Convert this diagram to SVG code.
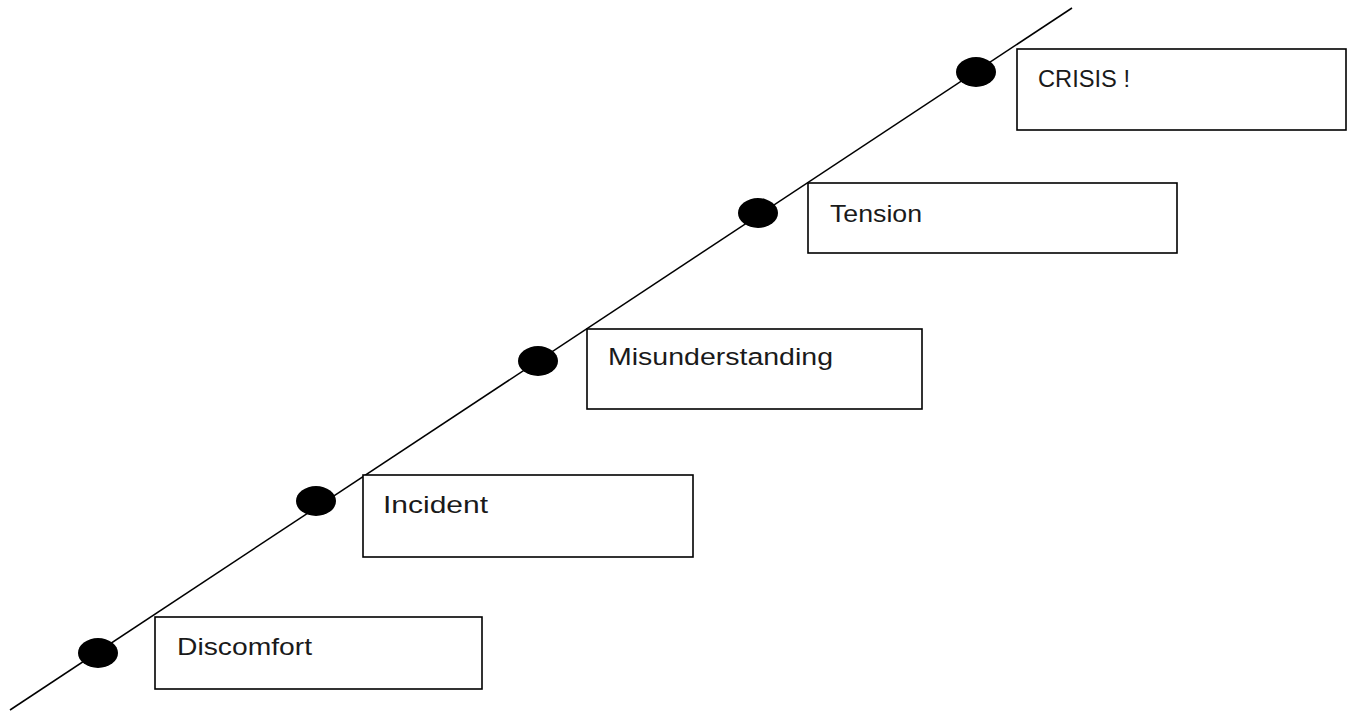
<svg xmlns="http://www.w3.org/2000/svg" width="1355" height="711" viewBox="0 0 1355 711">
<style>
.box{fill:#fff;stroke:#000;stroke-width:1.6}
.dot{fill:#000}
.lbl{font-family:"Liberation Sans",Arial,sans-serif;font-size:24.5px;fill:#1a1a1a}
.ln{stroke:#000;stroke-width:1.5;fill:none}
</style>
<rect width="1355" height="711" fill="#fff"/>
<g id="connectors">
<line class="ln" x1="10" y1="710" x2="1072" y2="8"/>
</g>
<g id="discomfort">
<ellipse class="dot" cx="98" cy="653" rx="20" ry="15"/>
<rect class="box" x="155" y="617" width="327" height="72"/>
<text class="lbl" x="177" y="655" textLength="135" lengthAdjust="spacingAndGlyphs">Discomfort</text>
</g>
<g id="incident">
<ellipse class="dot" cx="316" cy="501" rx="20" ry="15"/>
<rect class="box" x="363" y="475" width="330" height="82"/>
<text class="lbl" x="383" y="513" textLength="105" lengthAdjust="spacingAndGlyphs">Incident</text>
</g>
<g id="misunderstanding">
<ellipse class="dot" cx="538" cy="361" rx="20" ry="15"/>
<rect class="box" x="587" y="329" width="335" height="80"/>
<text class="lbl" x="608" y="365" textLength="225" lengthAdjust="spacingAndGlyphs">Misunderstanding</text>
</g>
<g id="tension">
<ellipse class="dot" cx="758" cy="213" rx="20" ry="15"/>
<rect class="box" x="808" y="183" width="369" height="70"/>
<text class="lbl" x="830" y="222" textLength="92" lengthAdjust="spacingAndGlyphs">Tension</text>
</g>
<g id="crisis">
<ellipse class="dot" cx="976" cy="72" rx="20" ry="15"/>
<rect class="box" x="1017" y="49" width="329" height="81"/>
<text class="lbl" x="1038" y="87" textLength="92" lengthAdjust="spacingAndGlyphs">CRISIS !</text>
</g>
</svg>
